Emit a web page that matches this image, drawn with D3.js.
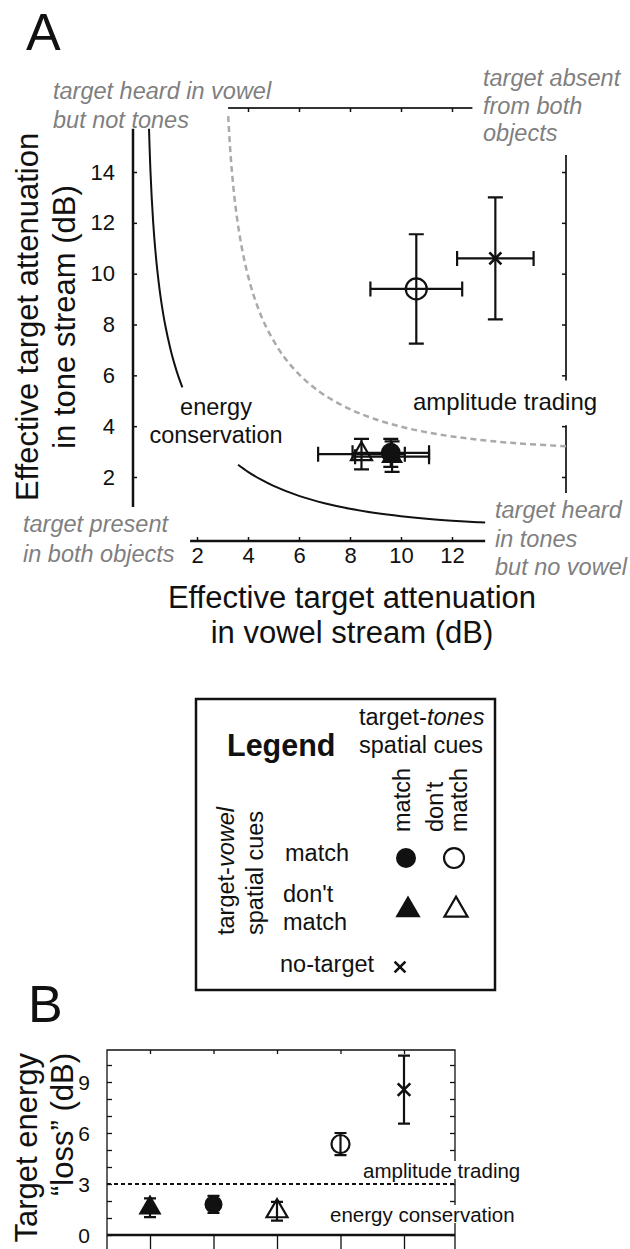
<!DOCTYPE html>
<html><head><meta charset="utf-8">
<script src="https://cdn.jsdelivr.net/npm/d3@7"></script>
<style>
body{margin:0;background:#fff;}
svg{display:block;font-family:"Liberation Sans",Arial,Helvetica,sans-serif;}
</style></head><body>
<svg id="chart" width="630" height="1249"></svg>
<script>
// ---------------- DATA ----------------
// conditions (marker key): vowel cue / tones cue
const conditionKeys = ["matchMatch", "vowelDontTonesMatch", "dontDont", "vowelMatchTonesDont", "noTarget"];
// Panel A: effective target attenuation (dB)
const vowelAtten    = [9.6, 9.65, 8.45, 10.6, 13.7];
const vowelAttenErr = [1.5, 1.45, 1.7, 1.8, 1.5];
const toneAtten     = [2.95, 2.8, 2.9, 9.4, 10.6];
const toneAttenErr  = [0.55, 0.6, 0.6, 2.15, 2.4];
const yTicksA = [2, 4, 6, 8, 10, 12, 14];
const xTicksA = [2, 4, 6, 8, 10, 12];
const topTicksA = [4, 6, 8, 10, 12];
const rightTicksA = [2, 4, 6, 8, 10, 12, 14];
// reference curves [vowel dB, tone dB]
const energyConservationUpper = [[0.1185,15.7],[0.1396,15],[0.1764,14],[0.2233,13],[0.283,12],[0.3594,11],[0.4576,10],[0.584,9],[0.749,8],[0.967,7],[1.101,6.5],[1.256,6],[1.426,5.53]];
const energyConservationLower = [[3.61,2.483],[4,2.205],[4.5,1.903],[5,1.651],[6,1.256],[7,0.967],[8,0.749],[9,0.584],[10,0.458],[11,0.359],[12,0.283],[13,0.223],[13.3,0.208]];
const amplitudeTradingCurve = [[3.224,16.2],[3.294,15],[3.371,14],[3.469,13],[3.596,12],[3.762,11],[3.979,10],[4.27,9],[4.666,8],[5.222,7],[5.589,6.5],[6.041,6],[6.5,5.589],[7,5.222],[8,4.666],[9,4.27],[10,3.979],[11,3.762],[12,3.596],[13,3.469],[14,3.371],[15,3.294],[16.47,3.211]];
// Panel B: target energy "loss" (dB)
const lossOrder     = ["vowelDontTonesMatch", "matchMatch", "dontDont", "vowelMatchTonesDont", "noTarget"];
const energyLoss    = [1.6, 1.8, 1.4, 5.35, 8.55];
const energyLossErr = [0.55, 0.5, 0.55, 0.65, 2.0];
const yTicksB = [0,1,2,3,4,5,6,7,8,9,10];
const yTickLabelsB = [0, 3, 6, 9];
const amplitudeTradingLoss = 3;

// ---------------- DRAWING ----------------
const svg = d3.select("#chart");
const BLACK = "#111";
const GRAY = "#7f7f7f";

function tri(s){ const h = s/Math.sqrt(3); return `M0,${-h}L${s/2},${h/2}L${-s/2},${h/2}Z`; }
function drawMarker(g, key, cx, cy, scale){
  const m = g.append("g").attr("transform", `translate(${cx},${cy})`);
  if (key === "matchMatch") m.append("circle").attr("r", 10*scale).attr("fill", BLACK);
  else if (key === "vowelMatchTonesDont") m.append("circle").attr("r", 10.5*scale).attr("fill", "none").attr("stroke", BLACK).attr("stroke-width", 2.2);
  else if (key === "vowelDontTonesMatch") m.append("path").attr("d", tri(22*scale)).attr("fill", BLACK);
  else if (key === "dontDont") m.append("path").attr("d", tri(21*scale)).attr("fill", "none").attr("stroke", BLACK).attr("stroke-width", 2.2);
  else { const d = 6*scale; m.append("path").attr("d", `M${-d},${-d}L${d},${d}M${-d},${d}L${d},${-d}`).attr("stroke", BLACK).attr("stroke-width", 2.6).attr("fill","none"); }
}

// ===== Panel A =====
svg.append("text").attr("x", 26).attr("y", 50).attr("font-size", 52).attr("fill", BLACK).text("A");

const xA = d3.scaleLinear().domain([2, 12]).range([197, 452]);
const yA = d3.scaleLinear().domain([2, 14]).range([477, 172]);
const gA = svg.append("g");

function styleAxis(g, fs){
  g.select(".domain").remove();
  g.attr("font-family", null).attr("font-size", null);
  g.selectAll(".tick line").attr("stroke", BLACK).attr("stroke-width", 1.5);
  g.selectAll(".tick text").attr("fill", BLACK).attr("font-size", fs);
}
// left axis
gA.append("line").attr("x1",133).attr("x2",133).attr("y1",yA(15.7)).attr("y2",yA(0.82)).attr("stroke",BLACK).attr("stroke-width",2.5);
gA.append("g").attr("transform","translate(133,0)")
  .call(d3.axisLeft(yA).tickValues(yTicksA).tickSizeInner(-4).tickSizeOuter(0).tickPadding(18).tickFormat(d3.format("d")))
  .call(g => styleAxis(g, 22));
// bottom axis
gA.append("line").attr("x1",xA(1.73)).attr("x2",xA(13.3)).attr("y1",541).attr("y2",541).attr("stroke",BLACK).attr("stroke-width",2.5);
gA.append("g").attr("transform","translate(0,541)")
  .call(d3.axisBottom(xA).tickValues(xTicksA).tickSizeInner(-4).tickSizeOuter(0).tickPadding(6).tickFormat(d3.format("d")))
  .call(g => styleAxis(g, 22));
// top axis
gA.append("line").attr("x1",xA(3.22)).attr("x2",xA(12.8)).attr("y1",108).attr("y2",108).attr("stroke","#333").attr("stroke-width",2);
gA.append("g").attr("transform","translate(0,108)")
  .call(d3.axisTop(xA).tickValues(topTicksA).tickSizeInner(-4).tickSizeOuter(0).tickFormat(""))
  .call(g => styleAxis(g, 0));
// right axis (broken)
[[14.67, 5.8], [4.04, 1.37]].forEach(s => {
  gA.append("line").attr("x1",566).attr("x2",566).attr("y1",yA(s[0])).attr("y2",yA(s[1])).attr("stroke","#333").attr("stroke-width",2);
});
gA.append("g").attr("transform","translate(566,0)")
  .call(d3.axisRight(yA).tickValues(rightTicksA).tickSizeInner(-4).tickSizeOuter(0).tickFormat(""))
  .call(g => styleAxis(g, 0));

// curves
const lineA = d3.line().x(d => xA(d[0])).y(d => yA(d[1])).curve(d3.curveCatmullRom);
gA.append("path").attr("d", lineA(amplitudeTradingCurve)).attr("fill","none").attr("stroke","#aaa").attr("stroke-width",2.5).attr("stroke-dasharray","6,4");
gA.append("path").attr("d", lineA(energyConservationUpper)).attr("fill","none").attr("stroke",BLACK).attr("stroke-width",2);
gA.append("path").attr("d", lineA(energyConservationLower)).attr("fill","none").attr("stroke",BLACK).attr("stroke-width",2);

// error bars + markers
const drawOrderA = [3, 4, 2, 1, 0];
drawOrderA.forEach(i => {
  const cx = xA(vowelAtten[i]), cy = yA(toneAtten[i]);
  const x0 = xA(vowelAtten[i]-vowelAttenErr[i]), x1 = xA(vowelAtten[i]+vowelAttenErr[i]);
  const y0 = yA(toneAtten[i]-toneAttenErr[i]), y1 = yA(toneAtten[i]+toneAttenErr[i]);
  const c = 7.5;
  const g = gA.append("g").attr("stroke", BLACK).attr("stroke-width", 2.2).attr("fill","none");
  g.append("path").attr("d", `M${x0},${cy}H${x1}M${x0},${cy-c}V${cy+c}M${x1},${cy-c}V${cy+c}M${cx},${y0}V${y1}M${cx-c},${y0}H${cx+c}M${cx-c},${y1}H${cx+c}`);
  drawMarker(gA, conditionKeys[i], cx, cy, 1);
});

// annotations
function multiText(g, x, ys, lines, opts){
  const t = g.append("text").attr("x", x).attr("font-size", opts.size).attr("fill", opts.fill)
    .attr("font-style", opts.italic ? "italic" : null).attr("text-anchor", opts.anchor || "start");
  lines.forEach((l, k) => t.append("tspan").attr("x", x).attr("y", ys[k]).text(l));
  return t;
}
multiText(gA, 53, [99, 128], ["target heard in vowel", "but not tones"], {size: 23.5, fill: GRAY, italic: true});
multiText(gA, 483, [86, 114, 141], ["target absent", "from both", "objects"], {size: 23.5, fill: GRAY, italic: true});
multiText(gA, 23, [532, 562], ["target present", "in both objects"], {size: 23.5, fill: GRAY, italic: true});
multiText(gA, 495, [518, 547, 575], ["target heard", "in tones", "but no vowel"], {size: 23.5, fill: GRAY, italic: true});
multiText(gA, 216, [415, 443], ["energy", "conservation"], {size: 23.5, fill: BLACK, anchor: "middle"});
multiText(gA, 413, [410], ["amplitude trading"], {size: 24, fill: BLACK});

// axis titles
multiText(gA, 352, [608, 643], ["Effective target attenuation", "in vowel stream (dB)"], {size: 31, fill: BLACK, anchor: "middle"});
const yt = gA.append("g").attr("transform", "translate(0,317) rotate(-90)");
multiText(yt, 0, [38, 75], ["Effective target attenuation", "in tone stream (dB)"], {size: 31, fill: BLACK, anchor: "middle"});

// ===== Legend =====
const gL = svg.append("g");
gL.append("rect").attr("x",196).attr("y",699).attr("width",299).attr("height",291).attr("fill","none").attr("stroke",BLACK).attr("stroke-width",2.5);
gL.append("text").attr("x",227).attr("y",756).attr("font-size",30.5).attr("font-weight","bold").attr("fill",BLACK).text("Legend");
const tt = gL.append("text").attr("x",359).attr("y",725).attr("font-size",23.5).attr("fill",BLACK);
tt.append("tspan").text("target-"); tt.append("tspan").attr("font-style","italic").text("tones");
gL.append("text").attr("x",359).attr("y",753).attr("font-size",23.5).attr("fill",BLACK).text("spatial cues");
function rotText(g, x, y, txt){ return g.append("text").attr("transform",`translate(${x},${y}) rotate(-90)`).attr("font-size",23.5).attr("fill",BLACK).text(txt); }
rotText(gL, 410, 832, "match");
rotText(gL, 443, 832, "don't");
rotText(gL, 467, 832, "match");
const tv = gL.append("text").attr("transform","translate(234,935) rotate(-90)").attr("font-size",23.5).attr("fill",BLACK);
tv.append("tspan").text("target-"); tv.append("tspan").attr("font-style","italic").text("vowel");
rotText(gL, 263, 935, "spatial cues");
gL.append("text").attr("x",285).attr("y",861).attr("font-size",23.5).attr("fill",BLACK).text("match");
multiText(gL, 283, [902, 930], ["don't", "match"], {size: 23.5, fill: BLACK});
gL.append("text").attr("x",280).attr("y",972).attr("font-size",23.5).attr("fill",BLACK).text("no-target");
drawMarker(gL, "matchMatch", 406, 858, 1);
drawMarker(gL, "vowelMatchTonesDont", 454, 858, 0.95);
drawMarker(gL, "vowelDontTonesMatch", 408, 910, 1.15);
drawMarker(gL, "dontDont", 456, 910, 1.1);
drawMarker(gL, "noTarget", 400, 967, 0.9);

// ===== Panel B =====
svg.append("text").attr("x", 28).attr("y", 1022).attr("font-size", 52).attr("fill", BLACK).text("B");
const xB = d3.scalePoint().domain(lossOrder).range([150, 404]);
const yB = d3.scaleLinear().domain([0, 3]).range([1235, 1184]);
const gB = svg.append("g");
const bx0 = 107, bx1 = 455, by0 = 1050, by1 = 1265;
gB.append("path").attr("d", `M${bx0},${by1}V${by0}H${bx1}V${by1}`).attr("fill","none").attr("stroke",BLACK).attr("stroke-width",1.3);
gB.append("g").attr("transform",`translate(${bx0},0)`)
  .call(d3.axisLeft(yB).tickValues(yTicksB).tickSizeInner(-5).tickSizeOuter(0).tickFormat(""))
  .call(g => styleAxis(g, 0));
gB.append("g").attr("transform",`translate(${bx1},0)`)
  .call(d3.axisRight(yB).tickValues(yTicksB).tickSizeInner(-5).tickSizeOuter(0).tickFormat(""))
  .call(g => styleAxis(g, 0));
gB.append("g").attr("transform",`translate(0,${by0})`)
  .call(d3.axisTop(xB).tickSizeInner(-4).tickSizeOuter(0).tickFormat(""))
  .call(g => styleAxis(g, 0));
gB.append("g").attr("transform",`translate(0,${yB(0)})`)
  .call(d3.axisBottom(xB).tickSizeInner(16).tickSizeOuter(0).tickFormat(""))
  .call(g => styleAxis(g, 0));
gB.selectAll("g.tick line").attr("stroke-width", 1.3);
yTickLabelsB.forEach(v => {
  gB.append("text").attr("x", 90).attr("y", yB(v)).attr("dy","0.36em").attr("text-anchor","end").attr("font-size",21).attr("fill",BLACK).text(v);
});
gB.append("line").attr("x1",bx0).attr("x2",bx1).attr("y1",yB(0)).attr("y2",yB(0)).attr("stroke",BLACK).attr("stroke-width",2.5);
// labels with white background
function bgLabel(x, y, txt){
  const t = gB.append("text").attr("x",x).attr("y",y).attr("font-size",20.5).attr("fill",BLACK).text(txt);
  const bb = t.node().getBBox();
  gB.insert("rect", () => t.node()).attr("x",bb.x-1).attr("y",bb.y+2).attr("width",bb.width+2).attr("height",bb.height-5).attr("fill","#fff");
}
bgLabel(363, 1178, "amplitude trading");
bgLabel(330, 1222, "energy conservation");
gB.append("line").attr("x1",bx0).attr("x2",bx1).attr("y1",yB(amplitudeTradingLoss)).attr("y2",yB(amplitudeTradingLoss)).attr("stroke",BLACK).attr("stroke-width",2).attr("stroke-dasharray","4,3");
const markerScaleB = {vowelDontTonesMatch: 1.05, matchMatch: 0.9, dontDont: 1.0, vowelMatchTonesDont: 0.86, noTarget: 1.05};
lossOrder.forEach((k, i) => {
  const cx = xB(k), cy = yB(energyLoss[i]);
  const y0 = yB(energyLoss[i]-energyLossErr[i]), y1 = yB(energyLoss[i]+energyLossErr[i]);
  const c = 6;
  gB.append("path").attr("d", `M${cx},${y0}V${y1}M${cx-c},${y0}H${cx+c}M${cx-c},${y1}H${cx+c}`).attr("stroke",BLACK).attr("stroke-width",2.2).attr("fill","none");
  drawMarker(gB, k, cx, cy, markerScaleB[k]);
});
const ytB = gB.append("g").attr("transform","translate(0,1053) rotate(-90)");
multiText(ytB, 0, [37, 73], ["Target energy", "\u201closs\u201d (dB)"], {size: 31, fill: BLACK, anchor: "end"});
</script>
</body></html>
